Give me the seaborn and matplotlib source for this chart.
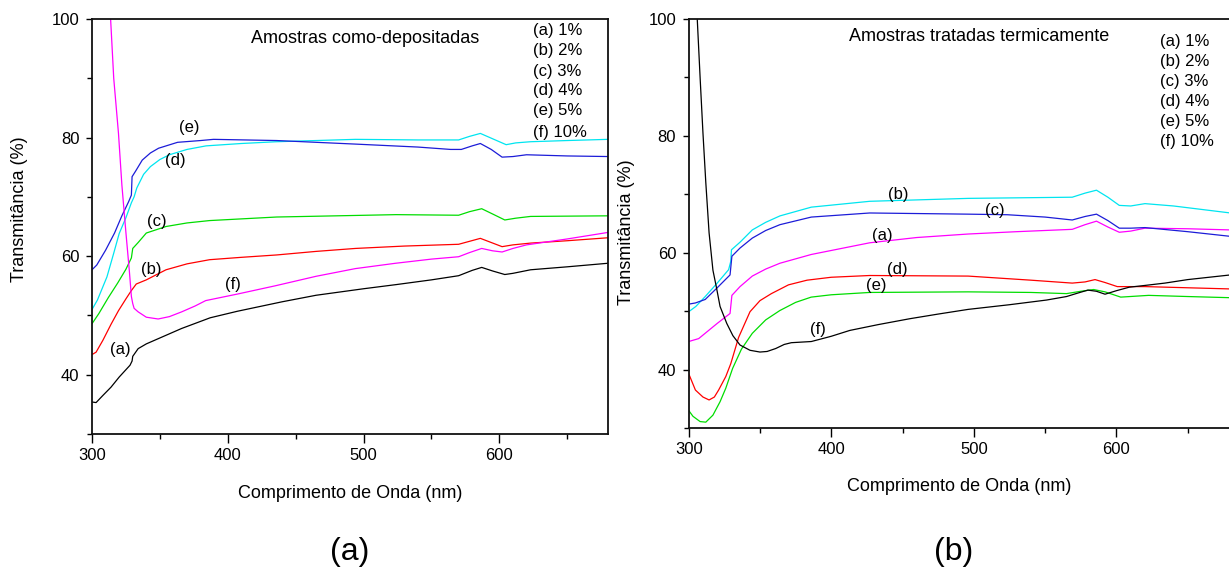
import numpy as np
import pandas as pd
import seaborn as sns
import matplotlib
matplotlib.use('Agg')
import matplotlib.pyplot as plt
from matplotlib.ticker import MultipleLocator

# ---- data: panel (a) amostras como-depositadas ----
wl_a_a = [300, 303, 308, 314, 320, 328, 329.5, 330, 334, 340, 349, 366, 387, 407, 440, 465, 500,
          524, 550, 570, 580, 587, 595, 604, 610, 623, 650, 680]
t_a_a = [35.4, 35.3, 36.5, 37.9, 39.6, 41.6, 42.3, 43.1, 44.4, 45.2, 46.1, 47.8, 49.6, 50.7, 52.3,
         53.4, 54.5, 55.2, 56.0, 56.7, 57.6, 58.1, 57.5, 56.9, 57.1, 57.7, 58.2, 58.8]

wl_a_b = [300, 303, 308, 314, 319.5, 325, 329, 332.6, 340, 354.5, 370, 386.6, 410, 436, 465, 494,
          530, 570, 578, 586, 594, 602, 610, 623, 650, 680]
t_a_b = [43.4, 43.8, 45.8, 48.5, 50.8, 52.8, 54.2, 55.3, 56.0, 57.7, 58.7, 59.4, 59.8, 60.2, 60.8,
         61.3, 61.7, 62.0, 62.5, 63.0, 62.3, 61.6, 61.9, 62.2, 62.6, 63.1]

wl_a_c = [300, 305, 312, 319, 325, 329, 330, 334, 340, 354.5, 370, 386.6, 436, 480, 524, 570, 578,
          587, 596, 604, 612, 623, 680]
t_a_c = [48.6, 50.3, 53.0, 55.5, 57.8, 59.7, 61.3, 62.3, 63.9, 65.0, 65.6, 66.0, 66.6, 66.8, 67.0,
         66.9, 67.5, 68.0, 67.0, 66.1, 66.4, 66.7, 66.8]

wl_a_d = [300, 304, 311, 316, 320, 325, 329, 331, 333, 338, 343, 350, 357, 370, 384, 410, 436, 494,
          540, 570, 578, 586, 595, 605, 612, 623, 650, 680]
t_a_d = [51.0, 52.6, 56.5, 60.5, 63.8, 66.5, 69.0, 70.0, 71.5, 73.8, 75.1, 76.3, 77.1, 78.0, 78.6,
         79.0, 79.3, 79.7, 79.6, 79.6, 80.2, 80.7, 79.8, 78.8, 79.1, 79.3, 79.5, 79.7]

wl_a_e = [300, 303.5, 310, 316.6, 322, 327, 329, 329.5, 332, 337, 343, 349, 363, 380, 389.5, 436,
          494, 540, 564, 572, 580, 586, 594, 602, 610, 620, 650, 680]
t_a_e = [57.7, 58.5, 61.0, 63.9, 66.8, 69.2, 70.3, 73.4, 74.3, 76.2, 77.4, 78.2, 79.2, 79.5, 79.7,
         79.5, 78.9, 78.4, 78.0, 78.0, 78.6, 79.0, 78.0, 76.7, 76.8, 77.1, 76.9, 76.8]

wl_a_f = [312.5, 313.7, 316, 319.5, 322, 325, 327.5, 329, 330, 331, 334, 340, 348.7, 357, 366, 376,
          383.7, 407, 435, 465, 494, 523.6, 550, 570, 578, 587, 595, 602, 610, 620, 650, 680]
t_a_f = [106, 100, 90, 80.7, 72, 63.9, 57.5, 53.2, 52.0, 51.2, 50.6, 49.7, 49.4, 49.8, 50.6, 51.6,
         52.5, 53.6, 55.0, 56.6, 57.9, 58.8, 59.5, 59.9, 60.6, 61.3, 60.9, 60.7, 61.3, 61.9, 62.9, 64.0]

# ---- data: panel (b) amostras tratadas termicamente ----
wl_b_a = [300, 307, 320, 329, 330.3, 336, 344.6, 354, 364, 386, 427, 460, 496, 530, 569, 578, 586,
          594, 602, 610, 620, 650, 680]
t_b_a = [44.8, 45.3, 47.9, 49.6, 52.7, 54.2, 56.0, 57.2, 58.2, 59.7, 61.7, 62.6, 63.2, 63.6, 64.0,
         64.8, 65.4, 64.4, 63.5, 63.7, 64.2, 64.1, 63.9]

wl_b_b = [300, 305, 311.6, 320, 328, 329.5, 330, 336, 344.6, 354, 364, 386, 427, 496, 569, 578, 586,
          594, 602, 610, 620, 640, 660, 680]
t_b_b = [49.9, 50.8, 52.5, 54.8, 57.1, 58.5, 60.5, 61.8, 63.9, 65.2, 66.3, 67.8, 68.8, 69.3, 69.5,
         70.2, 70.7, 69.5, 68.1, 68.0, 68.4, 68.0, 67.4, 66.8]

wl_b_c = [300, 304.7, 311.6, 320, 329, 330.3, 336, 344.6, 354, 364, 386, 427, 496, 523.5, 550, 569,
          578, 586, 594, 602, 610, 620, 650, 680]
t_b_c = [51.2, 51.4, 52.0, 54.0, 56.2, 59.4, 60.8, 62.5, 63.8, 64.8, 66.1, 66.8, 66.6, 66.5, 66.1,
         65.6, 66.2, 66.6, 65.5, 64.2, 64.2, 64.3, 63.6, 62.8]

wl_b_d = [300, 304.7, 310, 314.3, 318, 321, 326, 329.5, 335, 343, 350, 358, 370, 383, 400, 427, 496,
          540, 569, 578, 585, 592, 600.6, 620, 650, 680]
t_b_d = [39.3, 36.5, 35.3, 34.8, 35.3, 36.5, 38.8, 41.0, 45.5, 49.9, 51.8, 53.0, 54.5, 55.3, 55.8,
         56.1, 56.0, 55.3, 54.8, 55.0, 55.4, 54.9, 54.2, 54.2, 54.0, 53.8]

wl_b_e = [300, 303, 308, 312, 317, 322, 326, 330.8, 337, 344.6, 354, 363.9, 375, 385.9, 400, 427,
          496, 540, 565, 575, 584, 592, 603, 622.6, 650, 680]
t_b_e = [33.0, 32.0, 31.1, 31.0, 32.2, 34.5, 36.8, 40.2, 43.5, 46.2, 48.5, 50.1, 51.5, 52.4, 52.8,
         53.2, 53.3, 53.2, 53.0, 53.4, 53.7, 53.3, 52.4, 52.7, 52.5, 52.3]

wl_b_f = [305, 306, 308, 310, 312, 314.3, 317, 319.5, 322, 326.7, 331, 336, 343, 350, 355, 361, 367,
          372, 386, 400, 413, 433, 455, 475, 496, 525, 551, 565, 573, 580, 586, 592, 600, 609, 620,
          634, 650, 665, 680]
t_b_f = [105, 100, 90, 80.5, 72, 63.4, 57, 54, 50.8, 47.9, 45.8, 44.2, 43.3, 43.0, 43.1, 43.6, 44.3,
         44.6, 44.8, 45.7, 46.7, 47.7, 48.7, 49.5, 50.3, 51.1, 51.9, 52.5, 53.1, 53.6, 53.4, 52.9,
         53.5, 54.1, 54.4, 54.8, 55.4, 55.8, 56.2]

legend_lines = ['(a) 1%', '(b) 2%', '(c) 3%', '(d) 4%', '(e) 5%', '(f) 10%']

BLACK, RED, GREEN, CYAN, BLUE, MAGENTA = 'black', '#ff0000', '#00dd00', '#00e5f0', '#1c1cd8', '#ff00ff'

panel_a = [(wl_a_a, t_a_a, BLACK, '(a)', (321, 44.3)),
           (wl_a_b, t_a_b, RED, '(b)', (343.4, 57.8)),
           (wl_a_c, t_a_c, GREEN, '(c)', (347.5, 65.9)),
           (wl_a_d, t_a_d, CYAN, '(d)', (361.2, 76.2)),
           (wl_a_e, t_a_e, BLUE, '(e)', (371.4, 81.7)),
           (wl_a_f, t_a_f, MAGENTA, '(f)', (404, 55.2))]

panel_b = [(wl_b_a, t_b_a, MAGENTA, '(a)', (436, 62.9)),
           (wl_b_b, t_b_b, CYAN, '(b)', (447, 70.0)),
           (wl_b_c, t_b_c, BLUE, '(c)', (514.7, 67.2)),
           (wl_b_d, t_b_d, RED, '(d)', (446.4, 57.2)),
           (wl_b_e, t_b_e, GREEN, '(e)', (431.8, 54.4)),
           (wl_b_f, t_b_f, BLACK, '(f)', (390.6, 46.8))]

sns.set_style('ticks')
plt.rcParams['font.family'] = ['Liberation Sans', 'DejaVu Sans']
plt.rcParams['text.color'] = 'black'
plt.rcParams['axes.labelcolor'] = 'black'
plt.rcParams['xtick.color'] = 'black'
plt.rcParams['ytick.color'] = 'black'

fig = plt.figure(figsize=(12.29, 5.67), dpi=100)
ax1 = fig.add_axes([0.07486, 0.23457, 0.41985, 0.73192])
ax2 = fig.add_axes([0.56037, 0.24515, 0.44085, 0.72134])


def draw_panel(ax, series, title, title_xy, leg_x, leg_y):
    for wl, t, col, lab, pos in series:
        df = pd.DataFrame({'wl': wl, 't': t})
        sns.lineplot(data=df, x='wl', y='t', ax=ax, color=col, lw=0.9,
                     sort=False, estimator=None)
        ax.text(pos[0], pos[1], lab, fontsize=12, ha='center', va='center')
    ax.text(title_xy[0], title_xy[1], title, fontsize=13, ha='center', va='center')
    for i, s in enumerate(legend_lines):
        ax.text(leg_x, leg_y[i], s, fontsize=12, ha='left', va='center')

    ax.set_xlim(300, 680)
    ax.set_ylim(30, 100)
    ax.xaxis.set_major_locator(MultipleLocator(100))
    ax.xaxis.set_minor_locator(MultipleLocator(50))
    ax.yaxis.set_major_locator(MultipleLocator(20))
    ax.yaxis.set_minor_locator(MultipleLocator(10))
    ax.tick_params(axis='x', which='major', length=6.5, width=1, pad=3.5, labelsize=12)
    ax.tick_params(axis='y', which='major', length=4.5, width=1, pad=4.5, labelsize=12)
    ax.tick_params(which='minor', length=3.5, width=1)
    for sp in ax.spines.values():
        sp.set_linewidth(1.3)
        sp.set_color('#111111')
        sp.set_visible(True)
    ax.set_xlabel('Comprimento de Onda (nm)', fontsize=13)
    ax.set_ylabel('Transmitância (%)', fontsize=13)


draw_panel(ax1, panel_a, 'Amostras como-depositadas', (501, 96.7), 624.8,
           [98.1, 94.7, 91.2, 87.9, 84.5, 80.9])
draw_panel(ax2, panel_b, 'Amostras tratadas termicamente', (503.7, 97.0), 630.9,
           [96.1, 92.7, 89.3, 85.9, 82.5, 79.0])

ax1.xaxis.set_label_coords(0.5, -0.123)
ax1.yaxis.set_label_coords(-0.124, 0.542)
ax2.xaxis.set_label_coords(0.5, -0.122)
ax2.yaxis.set_label_coords(-0.099, 0.479)

fig.text(350 / 1229, 1 - 552 / 567, '(a)', fontsize=23, ha='center', va='center')
fig.text(954 / 1229, 1 - 552 / 567, '(b)', fontsize=23, ha='center', va='center')

fig.savefig('out.png', dpi=100)
